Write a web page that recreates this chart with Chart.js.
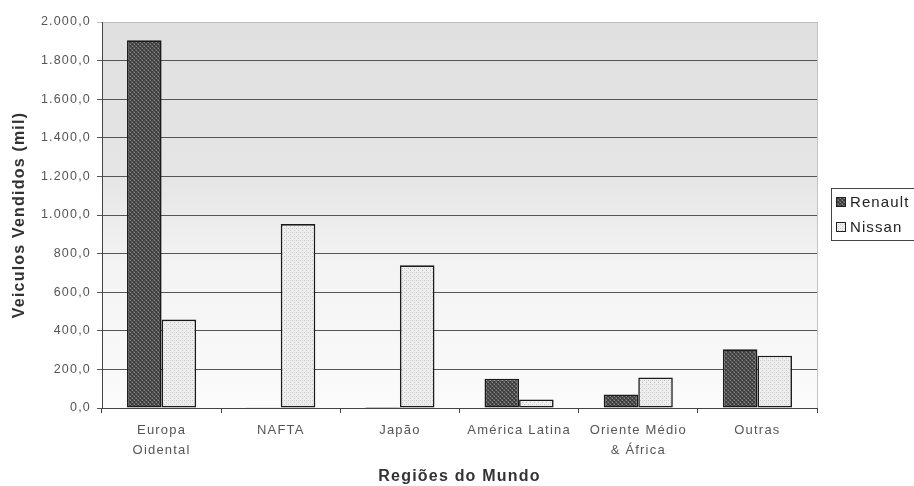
<!DOCTYPE html>
<html><head><meta charset="utf-8">
<script src="https://cdn.jsdelivr.net/npm/chart.js@4/dist/chart.umd.min.js"></script>
<style>html,body{margin:0;padding:0;background:#fff}#wrap{width:914px;height:486px}</style>
</head><body><div id="wrap"><canvas id="c" width="914" height="486"></canvas></div>
<script>
// ---- data ----
const categories = [['Europa','Oidental'], 'NAFTA', 'Japão', 'América Latina', ['Oriente Médio','& África'], 'Outras'];
const seriesNames = ['Renault', 'Nissan'];
const renaultValues = [1905, 4, 5, 152, 70, 304];
const nissanValues = [458, 953, 739, 44, 158, 271];
const yTickValues = [0, 200, 400, 600, 800, 1000, 1200, 1400, 1600, 1800, 2000];
const yTitle = 'Veiculos Vendidos (mil)';
const xTitle = 'Regiões do Mundo';

function fmt(v){
  const s = Math.round(v).toString().replace(/\B(?=(\d{3})+(?!\d))/g, '.');
  return s + ',0';
}
function makePattern(bg, fg, fg2, type){
  const c = document.createElement('canvas'); c.width = 4; c.height = 4;
  const x = c.getContext('2d');
  x.fillStyle = bg; x.fillRect(0,0,4,4);
  x.fillStyle = fg;
  if (type === 'hatch') {
    for (let i=0;i<4;i++){ x.fillRect(i,i,1,1); x.fillRect(3-i,i,1,1); }
    x.fillStyle = fg2; x.fillRect(2,0,1,1); x.fillRect(0,2,1,1);
  } else {
    x.fillRect(0,0,1,1); x.fillRect(2,2,1,1);
    x.fillStyle = fg2; x.fillRect(2,0,1,1);
  }
  return x.createPattern(c, 'repeat');
}
const renaultFill = makePattern('#5e5e5e', '#3c3c3c', '#8a8a8a', 'hatch');
const nissanFill = makePattern('#eeeeee', '#c6c6c6', '#d8d8d8', 'dots');
const fills = [renaultFill, nissanFill];

const LS = '1.2px';
const spacingPlugin = {
  id: 'spacing',
  beforeUpdate(chart){ chart.ctx.letterSpacing = LS; },
  beforeLayout(chart){ chart.ctx.letterSpacing = LS; },
  beforeDraw(chart){ chart.ctx.letterSpacing = LS; }
};
const bgPlugin = {
  id: 'plotbg',
  beforeDraw(chart){
    const {ctx, chartArea: a} = chart;
    ctx.save();
    const g = ctx.createLinearGradient(0, a.top, 0, a.bottom);
    g.addColorStop(0, '#e0e0e0');
    g.addColorStop(0.4, '#e5e5e5');
    g.addColorStop(0.62, '#f3f3f3');
    g.addColorStop(1, '#fbfbfb');
    ctx.fillStyle = g;
    ctx.fillRect(a.left, a.top, a.right - a.left, a.bottom - a.top);
    ctx.restore();
  },
  afterDraw(chart){
    const {ctx, chartArea: a} = chart;
    ctx.save();
    ctx.strokeStyle = '#c4c4c4'; ctx.lineWidth = 1;
    ctx.beginPath();
    ctx.moveTo(Math.round(a.right) + 0.5, a.top); ctx.lineTo(Math.round(a.right) + 0.5, a.bottom);
    ctx.stroke();
    // legend
    const lx = 831.5, ly = 188.5;
    ctx.strokeStyle = '#444'; ctx.lineWidth = 1;
    ctx.strokeRect(lx, ly, 100, 52);
    ctx.font = '15px "Liberation Sans", Arial, sans-serif';
    ctx.textBaseline = 'middle'; ctx.textAlign = 'left';
    ctx.letterSpacing = '1.1px';
    const rows = [202, 227];
    chart.data.datasets.forEach((ds, i) => {
      const cy = rows[i];
      ctx.fillStyle = fills[i];
      ctx.fillRect(836, cy - 5, 10, 10);
      ctx.strokeStyle = '#222';
      ctx.strokeRect(836.5, cy - 4.5, 9, 9);
      ctx.fillStyle = '#222';
      ctx.fillText(ds.label, 850, cy + 1);
    });
    ctx.restore();
  }
};

new Chart(document.getElementById('c'), {
  type: 'bar',
  data: {
    labels: categories,
    datasets: [
      { label: seriesNames[0], data: renaultValues, backgroundColor: renaultFill, borderColor: '#1a1a1a', borderWidth: 1.6, borderSkipped: false },
      { label: seriesNames[1], data: nissanValues, backgroundColor: nissanFill, borderColor: '#1a1a1a', borderWidth: 1.6, borderSkipped: false }
    ]
  },
  options: {
    responsive: false,
    devicePixelRatio: 1,
    animation: false,
    categoryPercentage: 0.58,
    barPercentage: 1,
    layout: { padding: { top: 22, right: 97, left: 0, bottom: 0 } },
    plugins: { legend: { display: false }, tooltip: { enabled: false } },
    scales: {
      x: {
        grid: { display: true, drawOnChartArea: false, drawTicks: true, tickLength: 5, color: '#444', offset: true },
        border: { display: true, color: '#444', width: 1 },
        ticks: { color: '#555', padding: 7, maxRotation: 0, autoSkip: false,
          font: { family: '"Liberation Sans", Arial, sans-serif', size: 13, lineHeight: 1.54 } },
        title: { display: true, text: xTitle, color: '#333', padding: { top: 0, bottom: 0 },
          font: { family: '"Liberation Sans", Arial, sans-serif', size: 16, weight: 'bold' } },
        afterFit(s){ s.height = 78; }
      },
      y: {
        min: 0, max: 2000,
        afterBuildTicks(s){ s.ticks = yTickValues.map(v => ({ value: v })); },
        grid: { color: c => (c.tick && c.tick.value === 2000) ? '#bdbdbd' : '#555', lineWidth: 1, tickLength: 5 },
        border: { display: true, color: '#444', width: 1 },
        ticks: { color: '#555', padding: 6, callback: v => fmt(v),
          font: { family: '"Liberation Sans", Arial, sans-serif', size: 12.5 } },
        title: { display: true, text: yTitle, color: '#333', padding: { top: 10, bottom: 0 },
          font: { family: '"Liberation Sans", Arial, sans-serif', size: 16, weight: 'bold' } },
        afterFit(s){ s.width = 102; }
      }
    }
  },
  plugins: [spacingPlugin, bgPlugin]
});
</script>
</body></html>
